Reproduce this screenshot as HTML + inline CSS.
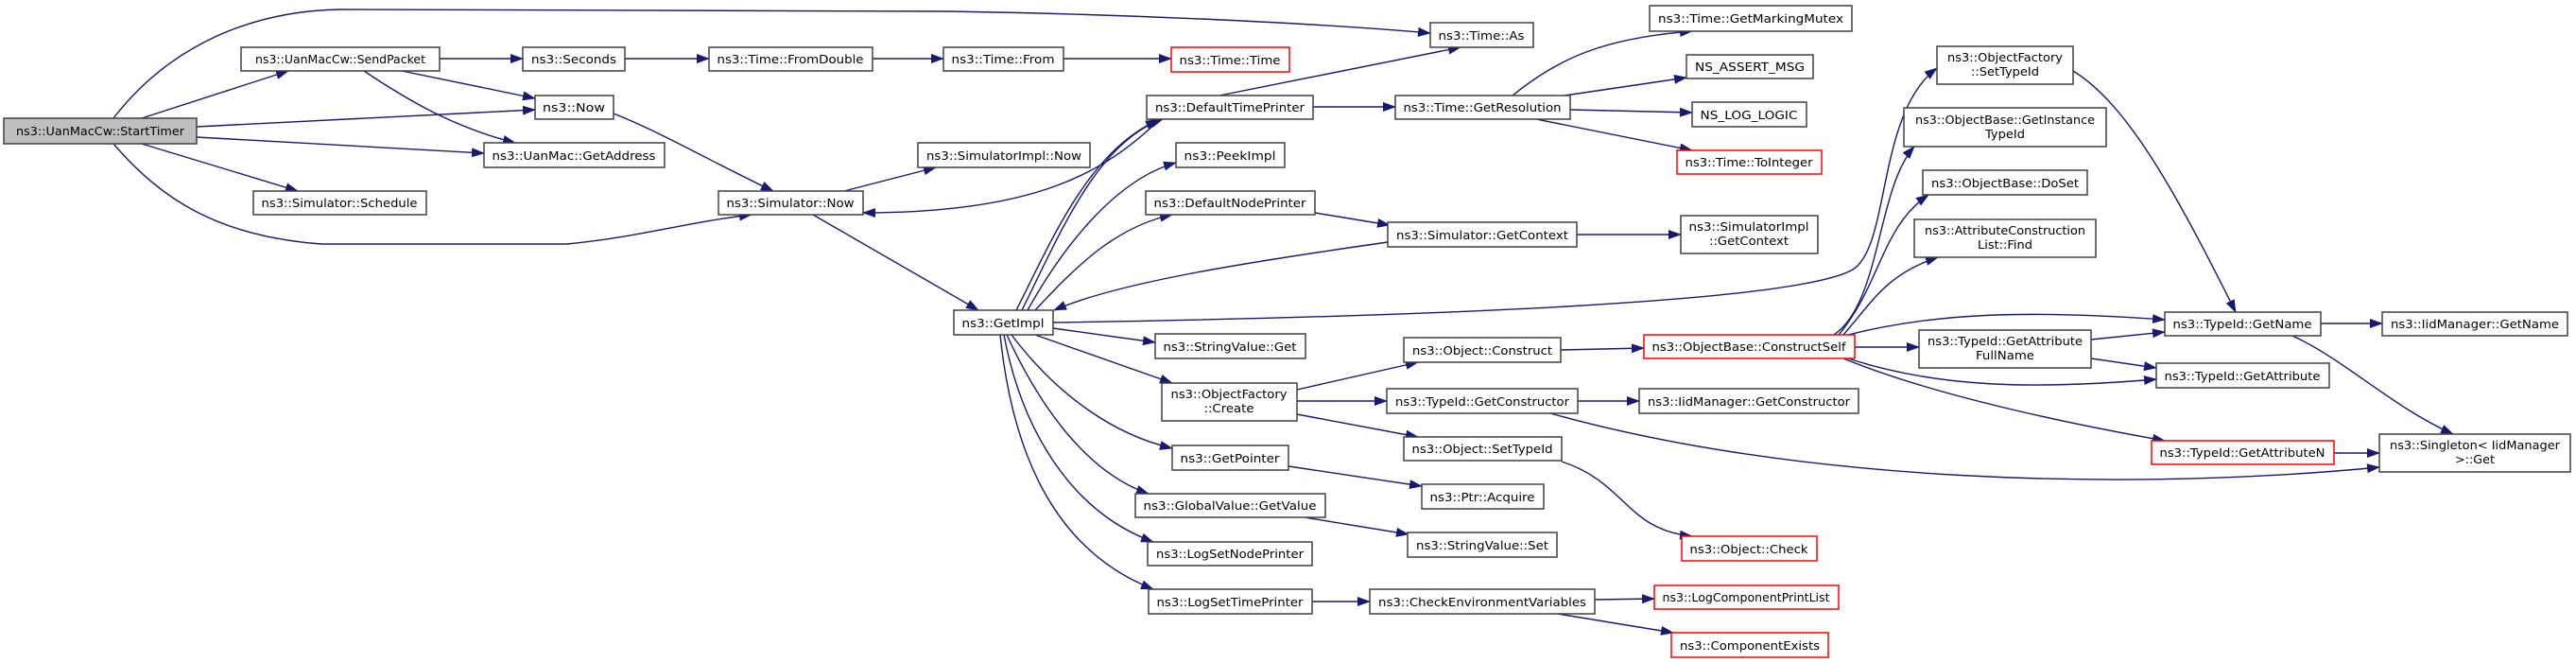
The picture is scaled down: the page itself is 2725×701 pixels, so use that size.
<!DOCTYPE html>
<html><head><meta charset="utf-8"><style>
html,body{margin:0;padding:0;background:#fff;}
svg{display:block;}
text{font-family:"DejaVu Sans","Liberation Sans",sans-serif;font-size:12.5px;fill:#000;}
.e{fill:none;stroke:#191970;stroke-width:1.4;marker-end:url(#ah);}
.n{fill:#fff;stroke:#404040;stroke-width:1.5;}
.r{fill:#fff;stroke:#ff0000;stroke-width:1.5;}
</style></head><body>
<svg width="2725" height="701" viewBox="0 0 2725 701" xmlns="http://www.w3.org/2000/svg">
<defs><marker id="ah" markerUnits="userSpaceOnUse" markerWidth="14" markerHeight="10" refX="13" refY="5" orient="auto"><path d="M0,0 L14,5 L0,10 z" fill="#191970"/></marker></defs>
<g>
<path class="e" d="M120,125 C170,60 250,12 360,10 L1000,12 C1200,15 1400,25 1513,35"/>
<path class="e" d="M150,125 L305,75"/>
<path class="e" d="M208,134 L566,116"/>
<path class="e" d="M208,145 L512,162"/>
<path class="e" d="M150,152 L315,202"/>
<path class="e" d="M120,152 C170,210 230,250 340,258 L600,258 C680,250 720,236 795,227"/>
<path class="e" d="M465,62 L553,62"/>
<path class="e" d="M425,75 L566,104"/>
<path class="e" d="M385,75 C430,105 480,135 545,151"/>
<path class="e" d="M661,62 L750,62"/>
<path class="e" d="M923,62 L998,62"/>
<path class="e" d="M1125,62 L1239,62"/>
<path class="e" d="M649,120 C700,140 760,175 818,202"/>
<path class="e" d="M893,202 L990,177"/>
<path class="e" d="M860,227 L1035,328"/>
<path class="e" d="M1225,128 C1170,180 1100,225 913,225"/>
<path class="e" d="M1290,101 L1545,50"/>
<path class="e" d="M1389,113 L1476,113"/>
<path class="e" d="M1075,328 C1110,260 1150,160 1225,127"/>
<path class="e" d="M1081,328 C1120,250 1160,150 1230,126"/>
<path class="e" d="M1087,328 C1125,260 1180,190 1244,172"/>
<path class="e" d="M1095,328 C1140,280 1180,240 1240,227"/>
<path class="e" d="M1468,256 C1300,280 1180,300 1115,328"/>
<path class="e" d="M1391,225 L1470,238"/>
<path class="e" d="M1668,248 L1778,248"/>
<path class="e" d="M1600,101 C1650,60 1700,40 1790,33"/>
<path class="e" d="M1655,101 L1784,82"/>
<path class="e" d="M1661,116 L1790,119"/>
<path class="e" d="M1625,126 L1790,159"/>
<path class="e" d="M1114,341 C1500,335 1900,320 1960,285 C2000,260 1985,120 2049,72"/>
<path class="e" d="M1940,354 C1990,320 1985,200 2025,155"/>
<path class="e" d="M1945,354 C1990,300 1990,240 2040,206"/>
<path class="e" d="M1950,354 C1980,320 1995,290 2050,272"/>
<path class="e" d="M1955,354 C2050,330 2150,328 2290,338"/>
<path class="e" d="M1962,367 L2030,367"/>
<path class="e" d="M1955,379 C2050,410 2150,412 2281,401"/>
<path class="e" d="M1950,379 C2050,420 2200,450 2290,466"/>
<path class="e" d="M2193,75 C2250,110 2300,200 2365,330"/>
<path class="e" d="M2212,359 L2290,351"/>
<path class="e" d="M2212,379 L2281,389"/>
<path class="e" d="M2455,342 L2520,342"/>
<path class="e" d="M2425,355 C2480,380 2530,430 2595,459"/>
<path class="e" d="M2469,479 L2517,479"/>
<path class="e" d="M1640,437 C1900,510 2250,520 2517,494"/>
<path class="e" d="M1651,370 L1739,368"/>
<path class="e" d="M1114,347 L1222,362"/>
<path class="e" d="M1095,354 L1240,405"/>
<path class="e" d="M1372,412 L1500,383"/>
<path class="e" d="M1372,424 L1467,424"/>
<path class="e" d="M1372,438 L1500,462"/>
<path class="e" d="M1669,424 L1734,424"/>
<path class="e" d="M1652,488 C1720,510 1720,560 1790,567"/>
<path class="e" d="M1070,354 C1120,420 1180,460 1240,474"/>
<path class="e" d="M1065,354 C1100,430 1150,500 1215,522"/>
<path class="e" d="M1062,354 C1080,450 1130,540 1220,573"/>
<path class="e" d="M1058,354 C1070,470 1110,580 1220,623"/>
<path class="e" d="M1363,493 L1504,514"/>
<path class="e" d="M1380,547 L1490,565"/>
<path class="e" d="M1388,636 L1449,636"/>
<path class="e" d="M1687,634 L1750,633"/>
<path class="e" d="M1648,649 L1770,669"/>
</g>
<g text-anchor="middle" lengthAdjust="spacingAndGlyphs">
<rect x="4" y="125" width="204" height="27" fill="#bfbfbf" stroke="#404040" stroke-width="1.5"/><text x="106" y="143" textLength="178" lengthAdjust="spacingAndGlyphs">ns3::UanMacCw::StartTimer</text>
<rect class="n" x="255" y="50" width="210" height="25"/><text x="360" y="67" textLength="180" lengthAdjust="spacingAndGlyphs">ns3::UanMacCw::SendPacket</text>
<rect class="n" x="553" y="50" width="108" height="25"/><text x="607" y="67" textLength="90" lengthAdjust="spacingAndGlyphs">ns3::Seconds</text>
<rect class="n" x="566" y="101" width="83" height="25"/><text x="607" y="118" textLength="66" lengthAdjust="spacingAndGlyphs">ns3::Now</text>
<rect class="n" x="512" y="151" width="191" height="26"/><text x="607" y="169" textLength="173" lengthAdjust="spacingAndGlyphs">ns3::UanMac::GetAddress</text>
<rect class="n" x="268" y="202" width="183" height="25"/><text x="359" y="219" textLength="165" lengthAdjust="spacingAndGlyphs">ns3::Simulator::Schedule</text>
<rect class="n" x="750" y="50" width="173" height="25"/><text x="836" y="67" textLength="155" lengthAdjust="spacingAndGlyphs">ns3::Time::FromDouble</text>
<rect class="n" x="998" y="50" width="127" height="25"/><text x="1061" y="67" textLength="109" lengthAdjust="spacingAndGlyphs">ns3::Time::From</text>
<rect class="r" x="1239" y="50" width="125" height="26"/><text x="1301" y="68" textLength="107" lengthAdjust="spacingAndGlyphs">ns3::Time::Time</text>
<rect class="n" x="1513" y="24" width="109" height="26"/><text x="1567" y="42" textLength="91" lengthAdjust="spacingAndGlyphs">ns3::Time::As</text>
<rect class="n" x="971" y="151" width="182" height="26"/><text x="1062" y="169" textLength="164" lengthAdjust="spacingAndGlyphs">ns3::SimulatorImpl::Now</text>
<rect class="n" x="760" y="202" width="153" height="25"/><text x="836" y="219" textLength="135" lengthAdjust="spacingAndGlyphs">ns3::Simulator::Now</text>
<rect class="n" x="1213" y="101" width="176" height="25"/><text x="1301" y="118" textLength="158" lengthAdjust="spacingAndGlyphs">ns3::DefaultTimePrinter</text>
<rect class="n" x="1244" y="151" width="115" height="26"/><text x="1301" y="169" textLength="97" lengthAdjust="spacingAndGlyphs">ns3::PeekImpl</text>
<rect class="n" x="1212" y="202" width="179" height="25"/><text x="1301" y="219" textLength="161" lengthAdjust="spacingAndGlyphs">ns3::DefaultNodePrinter</text>
<rect class="n" x="1009" y="328" width="105" height="26"/><text x="1061" y="346" textLength="87" lengthAdjust="spacingAndGlyphs">ns3::GetImpl</text>
<rect class="n" x="1745" y="6" width="214" height="27"/><text x="1852" y="24" textLength="196" lengthAdjust="spacingAndGlyphs">ns3::Time::GetMarkingMutex</text>
<rect class="n" x="1476" y="101" width="185" height="25"/><text x="1568" y="118" textLength="167" lengthAdjust="spacingAndGlyphs">ns3::Time::GetResolution</text>
<rect class="n" x="1784" y="58" width="134" height="25"/><text x="1851" y="75" textLength="116" lengthAdjust="spacingAndGlyphs">NS_ASSERT_MSG</text>
<rect class="n" x="1790" y="108" width="121" height="26"/><text x="1850" y="126" textLength="103" lengthAdjust="spacingAndGlyphs">NS_LOG_LOGIC</text>
<rect class="r" x="1774" y="159" width="153" height="25"/><text x="1850" y="176" textLength="135" lengthAdjust="spacingAndGlyphs">ns3::Time::ToInteger</text>
<rect class="n" x="1468" y="235" width="200" height="26"/><text x="1568" y="253" textLength="182" lengthAdjust="spacingAndGlyphs">ns3::Simulator::GetContext</text>
<rect class="n" x="1778" y="228" width="145" height="40"/><text x="1850" y="244" textLength="127" lengthAdjust="spacingAndGlyphs">ns3::SimulatorImpl</text><text x="1850" y="259" textLength="84" lengthAdjust="spacingAndGlyphs">::GetContext</text>
<rect class="n" x="2049" y="49" width="144" height="40"/><text x="2121" y="65" textLength="122" lengthAdjust="spacingAndGlyphs">ns3::ObjectFactory</text><text x="2121" y="80" textLength="72" lengthAdjust="spacingAndGlyphs">::SetTypeId</text>
<rect class="n" x="2014" y="114" width="214" height="41"/><text x="2121" y="131" textLength="190" lengthAdjust="spacingAndGlyphs">ns3::ObjectBase::GetInstance</text><text x="2121" y="146" textLength="42" lengthAdjust="spacingAndGlyphs">TypeId</text>
<rect class="n" x="2034" y="180" width="174" height="26"/><text x="2121" y="198" textLength="156" lengthAdjust="spacingAndGlyphs">ns3::ObjectBase::DoSet</text>
<rect class="n" x="2025" y="232" width="192" height="40"/><text x="2121" y="248" textLength="170" lengthAdjust="spacingAndGlyphs">ns3::AttributeConstruction</text><text x="2121" y="263" textLength="58" lengthAdjust="spacingAndGlyphs">List::Find</text>
<rect class="n" x="1222" y="353" width="159" height="26"/><text x="1301" y="371" textLength="141" lengthAdjust="spacingAndGlyphs">ns3::StringValue::Get</text>
<rect class="n" x="1229" y="405" width="143" height="40"/><text x="1300" y="421" textLength="123" lengthAdjust="spacingAndGlyphs">ns3::ObjectFactory</text><text x="1300" y="436" textLength="53" lengthAdjust="spacingAndGlyphs">::Create</text>
<rect class="n" x="1485" y="357" width="166" height="26"/><text x="1568" y="375" textLength="148" lengthAdjust="spacingAndGlyphs">ns3::Object::Construct</text>
<rect class="r" x="1739" y="354" width="223" height="25"/><text x="1850" y="371" textLength="205" lengthAdjust="spacingAndGlyphs">ns3::ObjectBase::ConstructSelf</text>
<rect class="n" x="1467" y="411" width="202" height="26"/><text x="1568" y="429" textLength="184" lengthAdjust="spacingAndGlyphs">ns3::TypeId::GetConstructor</text>
<rect class="n" x="1734" y="411" width="232" height="26"/><text x="1850" y="429" textLength="214" lengthAdjust="spacingAndGlyphs">ns3::IidManager::GetConstructor</text>
<rect class="n" x="1485" y="462" width="167" height="25"/><text x="1568" y="479" textLength="149" lengthAdjust="spacingAndGlyphs">ns3::Object::SetTypeId</text>
<rect class="n" x="1240" y="471" width="123" height="26"/><text x="1301" y="489" textLength="105" lengthAdjust="spacingAndGlyphs">ns3::GetPointer</text>
<rect class="n" x="1504" y="512" width="129" height="26"/><text x="1568" y="530" textLength="111" lengthAdjust="spacingAndGlyphs">ns3::Ptr::Acquire</text>
<rect class="n" x="1201" y="522" width="201" height="25"/><text x="1301" y="539" textLength="183" lengthAdjust="spacingAndGlyphs">ns3::GlobalValue::GetValue</text>
<rect class="n" x="1489" y="563" width="158" height="26"/><text x="1568" y="581" textLength="140" lengthAdjust="spacingAndGlyphs">ns3::StringValue::Set</text>
<rect class="r" x="1779" y="567" width="143" height="26"/><text x="1850" y="585" textLength="125" lengthAdjust="spacingAndGlyphs">ns3::Object::Check</text>
<rect class="n" x="1214" y="573" width="174" height="25"/><text x="1301" y="590" textLength="156" lengthAdjust="spacingAndGlyphs">ns3::LogSetNodePrinter</text>
<rect class="n" x="1215" y="623" width="173" height="26"/><text x="1301" y="641" textLength="155" lengthAdjust="spacingAndGlyphs">ns3::LogSetTimePrinter</text>
<rect class="n" x="1449" y="623" width="238" height="26"/><text x="1568" y="641" textLength="220" lengthAdjust="spacingAndGlyphs">ns3::CheckEnvironmentVariables</text>
<rect class="r" x="1750" y="619" width="195" height="25"/><text x="1847" y="636" textLength="177" lengthAdjust="spacingAndGlyphs">ns3::LogComponentPrintList</text>
<rect class="r" x="1768" y="669" width="166" height="26"/><text x="1851" y="687" textLength="148" lengthAdjust="spacingAndGlyphs">ns3::ComponentExists</text>
<rect class="n" x="2290" y="330" width="165" height="25"/><text x="2372" y="347" textLength="147" lengthAdjust="spacingAndGlyphs">ns3::TypeId::GetName</text>
<rect class="n" x="2520" y="330" width="196" height="25"/><text x="2618" y="347" textLength="178" lengthAdjust="spacingAndGlyphs">ns3::IidManager::GetName</text>
<rect class="n" x="2030" y="349" width="182" height="40"/><text x="2121" y="365" textLength="164" lengthAdjust="spacingAndGlyphs">ns3::TypeId::GetAttribute</text><text x="2121" y="380" textLength="62" lengthAdjust="spacingAndGlyphs">FullName</text>
<rect class="n" x="2281" y="384" width="183" height="26"/><text x="2372" y="402" textLength="165" lengthAdjust="spacingAndGlyphs">ns3::TypeId::GetAttribute</text>
<rect class="r" x="2276" y="466" width="193" height="25"/><text x="2372" y="483" textLength="175" lengthAdjust="spacingAndGlyphs">ns3::TypeId::GetAttributeN</text>
<rect class="n" x="2517" y="459" width="202" height="40"/><text x="2618" y="475" textLength="180" lengthAdjust="spacingAndGlyphs">ns3::Singleton&lt; IidManager</text><text x="2618" y="490" textLength="42" lengthAdjust="spacingAndGlyphs">&gt;::Get</text>
</g>
</svg>
</body></html>
